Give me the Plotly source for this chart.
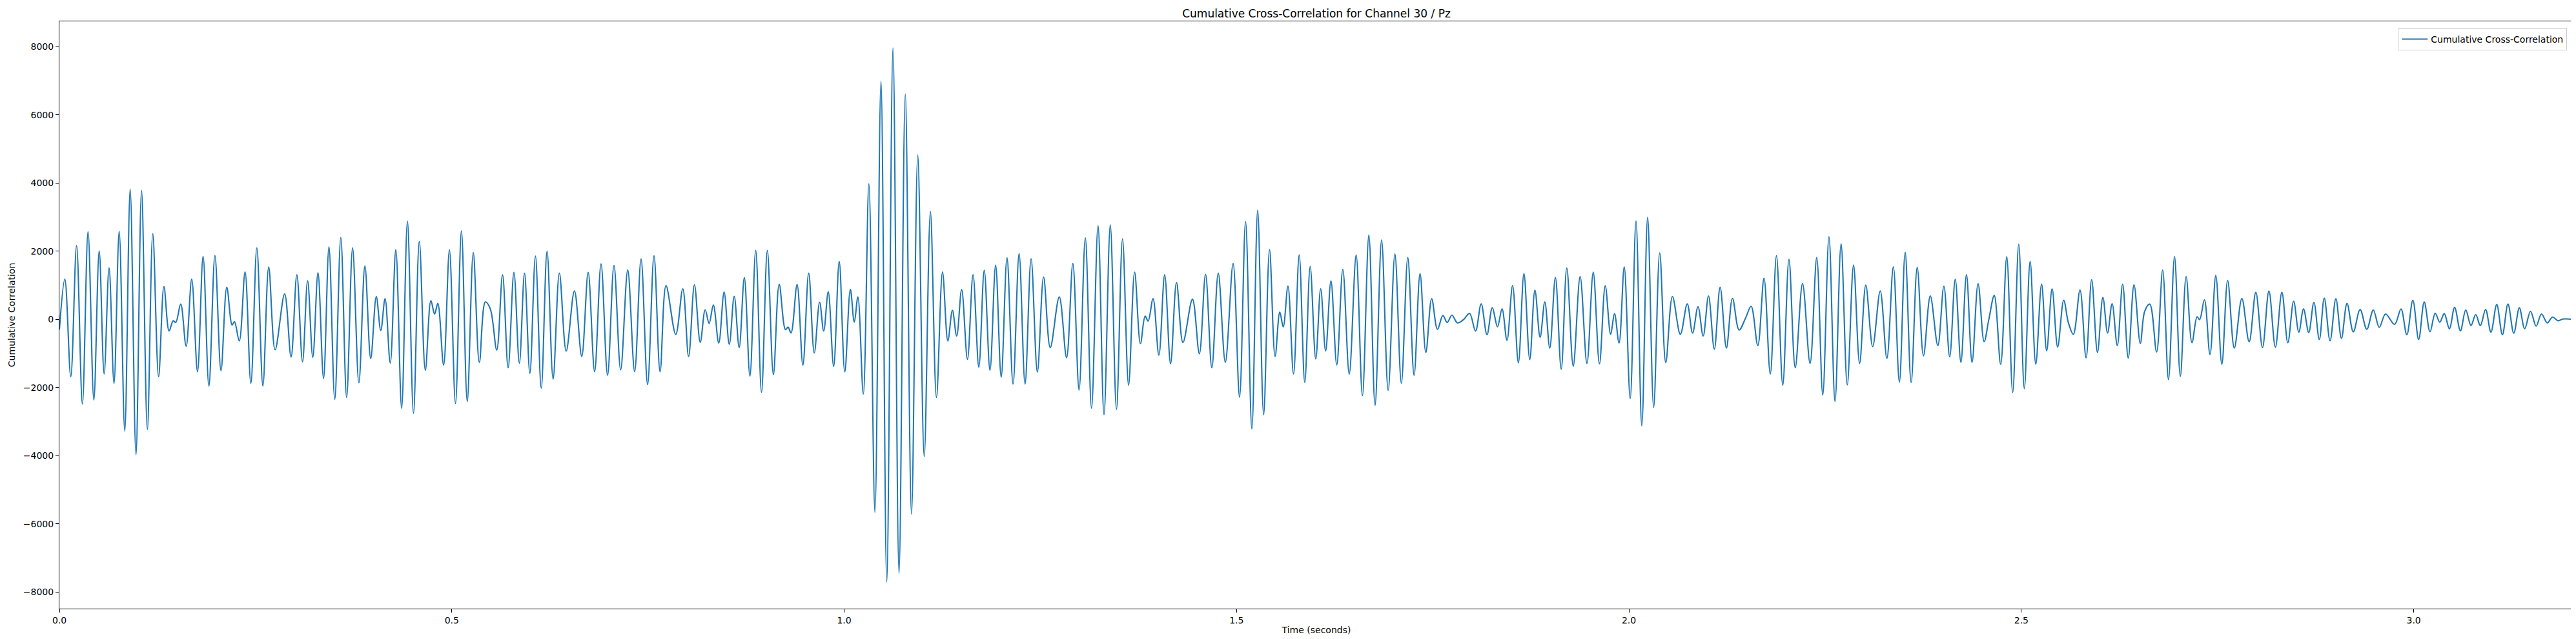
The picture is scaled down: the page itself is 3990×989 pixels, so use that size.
import numpy as np
import plotly.graph_objects as go

# ---- data: extrema of the cumulative cross-correlation trace (time in ms, value) ----
time_ms_a = [0, 6.9, 14.5, 21.9, 29.3, 36.5, 43.9, 50.7, 57.0, 63.3, 69.6, 76.2, 83.3, 90.2, 97.6, 104.7,
             112.1, 119.0, 126.4, 133.2, 139.8, 145.0, 148.3, 154.6, 161.5, 168.6, 176.0, 183.1, 190.5,
             198.2, 205.9, 213.3, 220.1, 223.1, 229.2, 236.6, 244.0, 251.6, 259.3, 266.7]
corr_a = [-300, 1181, -1677, 2165, -2480, 2575, -2362, 2008, -1598, 1512, -1874, 2583, -3276, 3819, -3969, 3780,
          -3228, 2512, -1677, 961, -339, -39, -87, 449, -787, 1181, -1535, 1850, -1953,
          1874, -1504, 945, -165, -63, -630, 1394, -1874, 2102, -1953, 1535]

time_ms_b = [274.9, 287.0, 295.2, 302.6, 309.8, 316.3, 322.9, 329.5, 336.6, 343.5, 350.9, 358.6, 366.0, 373.6,
             381.6, 389.3, 396.7, 403.8, 409.5, 415.0, 421.6, 428.7, 436.1, 443.5, 451.2, 458.6, 466.3, 473.4,
             478.1, 482.2, 489.6, 497.0, 504.7, 512.3, 519.7, 527.4]
corr_b = [-890, 748, -1102, 1307, -1244, 1134, -1110, 1370, -1732, 2126, -2346, 2402, -2291, 2102,
          -1858, 1567, -1150, 669, -323, 606, -1283, 2047, -2606, 2882, -2756, 2283, -1496, 551,
          157, 472, -1339, 2039, -2465, 2598, -2409, 1961]

time_ms_c = [535.1, 542.8, 549.1, 557.3, 564.7, 571.8, 579.2, 586.1, 592.7, 599.5, 606.6, 614.0, 621.4, 629.1,
             637.1, 645.8, 656.3, 665.6, 673.8, 682.0, 690.2, 698.5, 706.7, 715.2, 724.2, 733.0, 741.2, 749.5,
             757.7, 765.4, 773.0, 785.4, 794.4]
corr_c = [-1260, 512, 307, -898, 1307, -1417, 1378, -1283, 1354, -1583, 1858, -2016, 2000, -1748,
          1354, -929, 835, -1087, 1378, -1535, 1630, -1638, 1583, -1480, 1449, -1535, 1772, -1913,
          1866, -1535, 992, -441, 898]

time_ms_d = [801.8, 809.2, 816.6, 822.9, 827.9, 833.3, 840.2, 847.0, 853.6, 859.9, 866.2, 872.8, 879.9, 887.3,
             894.7, 902.1, 909.8, 917.2, 925.2, 928.5, 932.3, 940.0, 947.4, 954.8, 961.9, 968.7, 973.9, 979.7,
             986.6, 993.7, 1000.8, 1007.9, 1012.9, 1017.5, 1024.4]
corr_d = [-1087, 1016, -669, 283, -118, 425, -693, 803, -732, 677, -827, 1228, -1661, 2024,
          -2134, 2024, -1622, 1031, -299, -228, -394, 1024, -1339, 1354, -984, 504, -339, 811,
          -1378, 1701, -1535, 882, -79, 661, -2189]

time_ms_e = [1031.5, 1039.2, 1046.9, 1054.3, 1062.2, 1069.9, 1077.9, 1085.8, 1093.8, 1102.0, 1109.9, 1117.6,
             1125.3, 1132.1, 1137.9, 1143.4, 1149.7, 1157.1, 1164.2, 1171.6, 1178.5, 1185.8]
corr_e = [3980, -5660, 6990, -7700, 7960, -7454, 6606, -5710, 4820, -4020, 3165, -2290,
          1390, -630, 265, -487, 876, -1170, 1310, -1400, 1440, -1494]

time_ms_f = [1193.0, 1200.1, 1207.5, 1215.2, 1222.9, 1230.5, 1238.2, 1246.2, 1254.1, 1262.6, 1274.1, 1283.4,
             1291.4, 1299.3, 1307.3, 1315.2, 1323.5, 1331.1]
corr_f = [1591, -1693, 1811, -1898, 1929, -1898, 1780, -1543, 1244, -827, 661, -1126,
          1638, -2071, 2394, -2606, 2748, -2795]

time_ms_g = [1339.1, 1347.0, 1354.7, 1362.4, 1370.1, 1377.5, 1383.5, 1387.3, 1393.6, 1401.0, 1408.4, 1415.9,
             1423.5, 1431.7, 1443.8, 1452.6, 1460.5, 1468.5, 1476.7, 1485.7, 1495.6, 1503.8, 1511.5, 1519.5,
             1526.9, 1534.5, 1542.0, 1549.1, 1555.1, 1559.5, 1565.5, 1572.6, 1579.8, 1586.9, 1593.8, 1600.9]
corr_g = [2772, -2638, 2362, -1929, 1386, -709, 94, -47, 606, -1047, 1307, -1299,
          1079, -677, 591, -1008, 1323, -1417, 1354, -1260, 1638, -2283, 2874, -3213,
          3205, -2795, 2047, -1087, 213, -220, 976, -1598, 1890, -1850, 1551, -1160]

time_ms_h = [1607.2, 1613.5, 1620.3, 1627.7, 1635.4, 1643.6, 1652.4, 1660.4, 1668.6, 1676.5, 1684.8, 1693.2,
             1701.8, 1710.0, 1718.2, 1726.2, 1733.8, 1741.2, 1748.6, 1756.0, 1762.9, 1768.4, 1774.4, 1781.5,
             1789.5, 1796.9, 1804.5, 1811.7, 1819.1, 1825.9, 1832.5, 1838.3, 1844.6, 1851.7, 1859.1, 1866.2,
             1873.6, 1880.2, 1886.8, 1892.8, 1899.1, 1906.3, 1913.7, 1920.8]
corr_h = [897, -923, 1131, -1333, 1466, -1605, 1889, -2237, 2477, -2521, 2332, -2079,
          1921, -1870, 1814, -1637, 1340, -967, 607, -291, 114, -88, 126, -101,
          0, 177, -341, 455, -449, 341, -215, 310, -613, 992, -1270, 1340,
          -1175, 859, -524, 512, -840, 1226, -1460, 1510]

time_ms_i = [1929.0, 1937.8, 1946.5, 1954.5, 1962.4, 1969.8, 1976.7, 1981.6, 1987.4, 1994.0, 2001.6, 2009.0,
             2016.4, 2023.8, 2031.5, 2039.2, 2046.9, 2055.4, 2065.5, 2074.3, 2081.1, 2088.0, 2094.6, 2101.4,
             2108.8, 2116.2, 2124.2, 2131.9, 2140.4, 2148.9, 2155.7, 2164.2, 2172.1, 2180.1, 2188.0, 2196.0,
             2203.9, 2211.9, 2221.2, 2230.8, 2239.3]
corr_i = [-1371, 1258, -1289, 1384, -1302, 986, -436, 171, -689, 1542, -2319, 2888,
          -3122, 2995, -2578, 1953, -1270, 670, -436, 455, -398, 373, -487, 689,
          -872, 942, -840, 619, -310, 57, 385, -765, 1207, -1599, 1870, -1934,
          1763, -1416, 1055, -1289, 1814]

time_ms_j = [2247.0, 2254.9, 2262.6, 2270.3, 2278.2, 2286.2, 2293.9, 2301.8, 2310.6, 2320.2, 2328.7, 2336.9,
             2344.6, 2352.0, 2359.6, 2367.3, 2375.3, 2384.0, 2393.6, 2401.3, 2408.7, 2415.8, 2423.0, 2430.1,
             2437.2, 2444.9, 2452.6, 2458.6, 2465.5, 2473.7, 2481.4, 2489.0, 2496.7, 2503.8, 2511.2, 2518.4,
             2525.8, 2532.3, 2539.2, 2546.3, 2554.0, 2560.0]
corr_j = [-2218, 2427, -2408, 2218, -1921, 1592, -1289, 1005, -796, 834, -1144, 1542,
          -1839, 1965, -1851, 1529, -1068, 689, -765, 973, -1093, 1175, -1258, 1308,
          -1258, 1049, -651, 0, 701, -1321, 1839, -2142, 2205, -2028, 1700, -1314,
          1036, -922, 897, -808, 562, -100]

time_ms_k = [2566.3, 2574.8, 2582.5, 2589.6, 2597.0, 2603.9, 2609.9, 2615.7, 2622.3, 2629.1, 2636.2, 2643.6,
             2651.6, 2657.3, 2663.7, 2672.4, 2680.1, 2687.5, 2695.2, 2702.6, 2710.0, 2717.4, 2724.0, 2727.2,
             2733.3, 2740.4, 2747.8, 2755.5, 2762.9, 2771.4, 2781.0, 2790.3, 2798.8, 2807.3, 2815.5, 2823.7,
             2832.0, 2839.6, 2847.0, 2853.6, 2859.6, 2866.2, 2872.8, 2879.7, 2886.0]
corr_k = [-436, 859, -1125, 1163, -967, 645, -398, 461, -765, 1036, -1131, 1017,
          -701, 246, 449, -954, 1447, -1763, 1845, -1668, 1258, -682, 76, -6,
          575, -1030, 1290, -1314, 1144, -840, 613, -657, 796, -827, 834, -815,
          796, -682, 531, -373, 310, -385, 499, -588, 625]

time_ms_l = [2893.4, 2900.8, 2907.9, 2915.0, 2923.0, 2931.7, 2940.2, 2948.5, 2956.1, 2964.1, 2975.6, 2983.8,
             2991.2, 2998.9, 3006.3, 3013.4, 3020.8, 3027.4, 3033.2, 3038.9, 3045.5, 3052.1, 3059.5, 3066.3,
             3072.9, 3079.0, 3084.9, 3091.6, 3098.4, 3105.8, 3113.0, 3120.1, 3127.5, 3134.6, 3141.4, 3148.8,
             3156.0, 3162.8, 3170.2, 3176.8, 3184.0, 3190.2, 3203.5]
corr_l = [-625, 606, -556, 468, -366, 291, -291, 278, -234, 158, -145, 303,
          -449, 562, -588, 512, -360, 183, -82, 171, -278, 354, -335, 278,
          -177, 139, -183, 291, -373, 436, -449, 449, -404, 341, -272, 240,
          -196, 158, -101, 69, -38, 13, 0]

x_tick_vals = [0.0, 0.5, 1.0, 1.5, 2.0, 2.5, 3.0]
x_tick_text = ["0.0", "0.5", "1.0", "1.5", "2.0", "2.5", "3.0"]
y_tick_vals = [-8000, -6000, -4000, -2000, 0, 2000, 4000, 6000, 8000]

# ---- assemble ----
time_ms = (time_ms_a + time_ms_b + time_ms_c + time_ms_d + time_ms_e + time_ms_f + time_ms_g +
           time_ms_h + time_ms_i + time_ms_j + time_ms_k + time_ms_l)
corr = corr_a + corr_b + corr_c + corr_d + corr_e + corr_f + corr_g + corr_h + corr_i + corr_j + corr_k + corr_l
t = np.array(time_ms) / 1000.0
v = np.array(corr, dtype=float)

span = v.max() - v.min()
y_range = [v.min() - 0.05 * span, v.max() + 0.05 * span]
x_range = [t.min(), t.max()]

FONT = "DejaVu Sans"

fig = go.Figure()
fig.add_trace(go.Scatter(
    x=t, y=v, mode="lines", name="Cumulative Cross-Correlation",
    line=dict(color="#1f77b4", width=2.1, shape="spline", smoothing=1.0),
))

axis_common = dict(
    showline=True, linecolor="black", linewidth=1.1, mirror=True,
    ticks="outside", ticklen=5, tickwidth=1.1, tickcolor="black",
    showgrid=False, zeroline=False, automargin=False,
    tickfont=dict(family=FONT, size=14, color="black"),
)

fig.update_layout(
    width=3990, height=989,
    margin=dict(l=84, r=12, t=25, b=55),
    paper_bgcolor="white", plot_bgcolor="white",
    font=dict(family=FONT, size=14, color="black"),
    title=dict(text="Cumulative Cross-Correlation for Channel 30 / Pz",
               font=dict(family=FONT, size=17, color="black"),
               x=0.5, xref="paper", xanchor="center",
               y=1 - 13 / 989, yref="container", yanchor="middle"),
    xaxis=dict(range=x_range, tickvals=x_tick_vals, ticktext=x_tick_text,
               title=dict(text="Time (seconds)", font=dict(family=FONT, size=14, color="black"), standoff=3),
               **axis_common),
    yaxis=dict(range=y_range, tickvals=y_tick_vals,
               title=dict(text="Cumulative Correlation", font=dict(family=FONT, size=14, color="black"), standoff=8),
               **axis_common),
    showlegend=True,
    legend=dict(x=0.9975, y=0.988, xanchor="right", yanchor="top",
                bgcolor="rgba(255,255,255,0.8)", bordercolor="#cccccc", borderwidth=1,
                itemwidth=40,
                font=dict(family=FONT, size=14, color="black")),
)

fig.write_html("out.html")
